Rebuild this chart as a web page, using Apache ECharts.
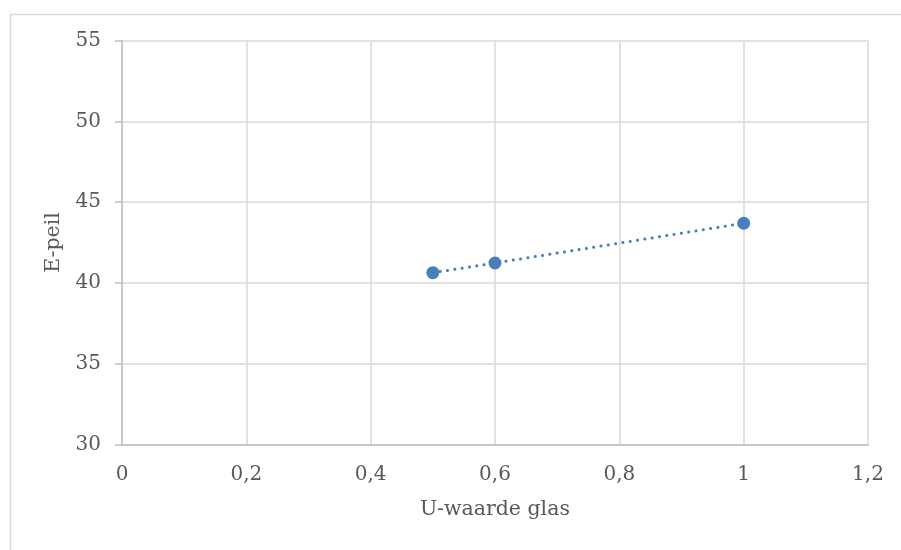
<!DOCTYPE html>
<html>
<head>
<meta charset="utf-8">
<script src="https://cdn.jsdelivr.net/npm/echarts@6/dist/echarts.min.js"></script>
<style>html,body{margin:0;padding:0;background:#fff}#c{width:901px;height:550px}</style>
</head>
<body>
<div id="c"></div>
<script>
var uValues = [0.5, 0.6, 1];
var ePeil = [40.63, 41.23, 43.69];
var xTicks = ['0', '0,2', '0,4', '0,6', '0,8', '1', '1,2'];
var xTitle = 'U-waarde glas';
var yTitle = 'E-peil';

var FONT = 'DejaVu Serif';
var chart = echarts.init(document.getElementById('c'), null, {renderer: 'canvas'});
var pts = uValues.map(function (u, i) { return [u, ePeil[i]]; });
chart.setOption({
  animation: false,
  backgroundColor: '#fff',
  graphic: [{
    type: 'rect', left: 8, top: 12, shape: {width: 1000, height: 1000},
    style: {fill: 'none', stroke: '#d9d9d9', lineWidth: 1.5}, silent: true
  }],
  grid: {left: 122, right: 33, top: 40.5, bottom: 105.5, containLabel: false},
  xAxis: {
    type: 'value', min: 0, max: 1.2, interval: 0.2,
    name: xTitle, nameLocation: 'middle', nameGap: 55,
    nameTextStyle: {fontFamily: FONT, fontSize: 20.5, color: '#595959'},
    axisLine: {show: true, lineStyle: {color: '#bfbfbf', width: 1.5}},
    axisTick: {show: false},
    splitLine: {show: true, lineStyle: {color: '#d9d9d9', width: 1.5}},
    axisLabel: {
      margin: 20, fontFamily: FONT, fontSize: 20, color: '#595959',
      formatter: function (v) { return xTicks[Math.round(v / 0.2)]; }
    }
  },
  yAxis: {
    type: 'value', min: 30, max: 55, interval: 5,
    name: yTitle, nameLocation: 'middle', nameGap: 54, nameRotate: 90,
    nameTextStyle: {fontFamily: FONT, fontSize: 20.5, color: '#595959'},
    axisLine: {show: true, lineStyle: {color: '#bfbfbf', width: 1.5}},
    axisTick: {show: true, length: 7, inside: false, lineStyle: {color: '#bfbfbf', width: 1.5}},
    splitLine: {show: true, lineStyle: {color: '#d9d9d9', width: 1.5}},
    axisLabel: {margin: 21, fontFamily: FONT, fontSize: 20, color: '#595959',
      padding: [3, 0, 0, 0]}
  },
  series: [{
    type: 'line', data: pts,
    symbol: 'circle', symbolSize: 13,
    itemStyle: {color: '#4a7ebb'},
    lineStyle: {color: '#4a7ebb', width: 3, type: [0.1, 7.3], cap: 'round'}
  }]
});
</script>
</body>
</html>
